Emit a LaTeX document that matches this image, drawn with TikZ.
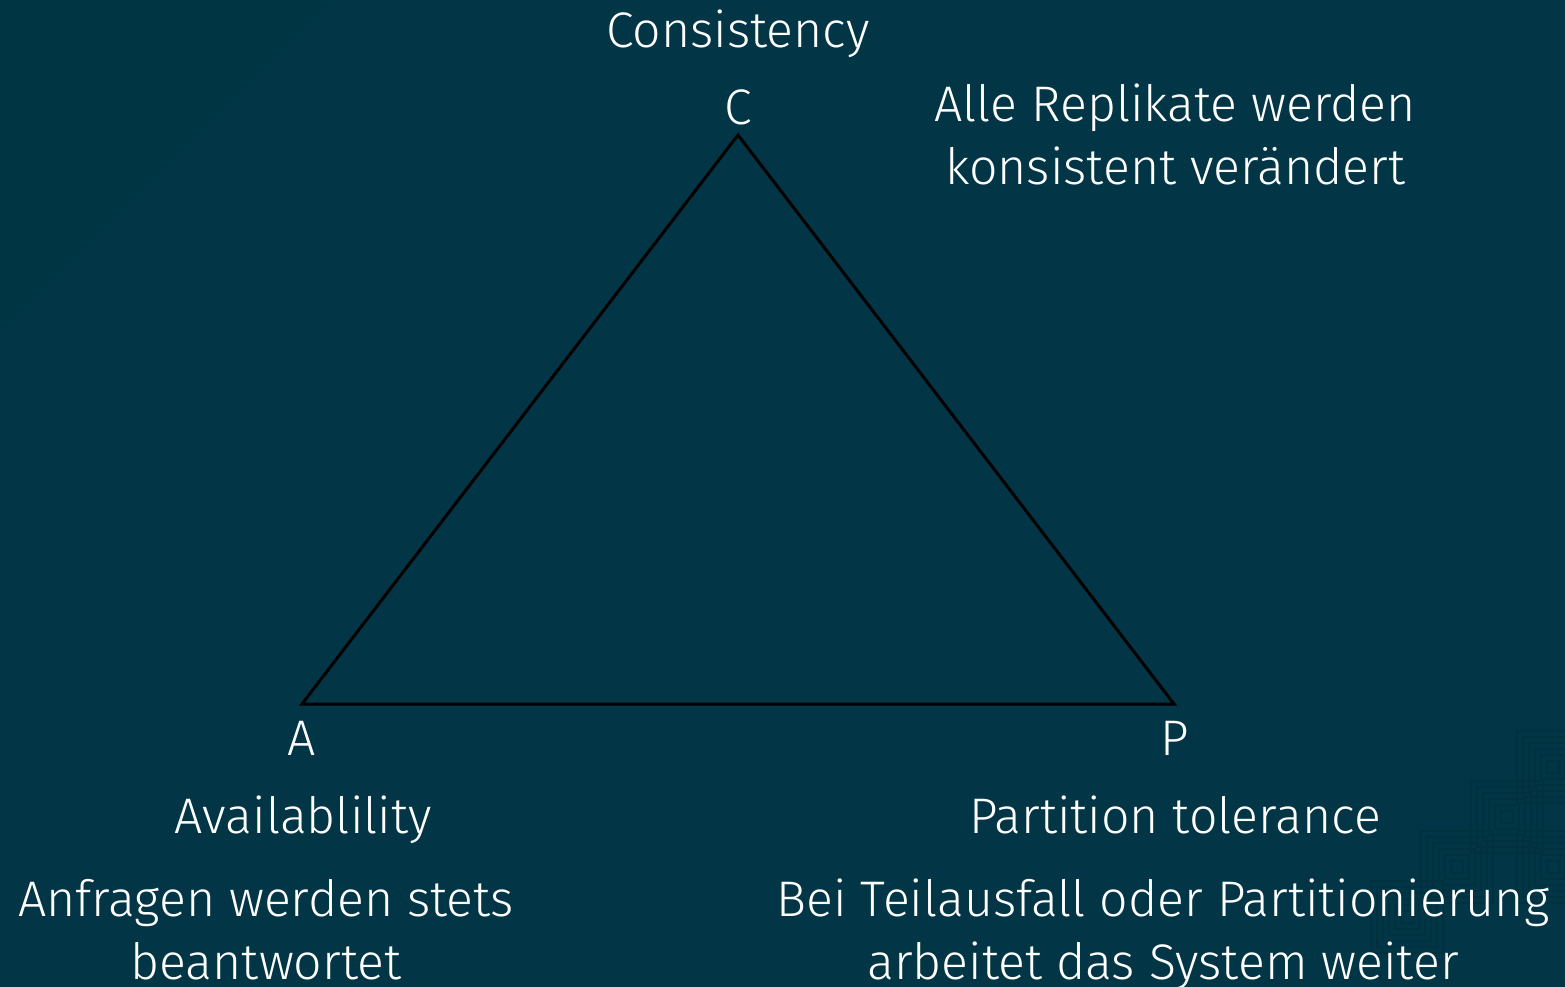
\documentclass[tikz,border=0pt]{standalone}
\usepackage{fontspec}
\setmainfont{Fira Sans}[UprightFont=* Light]
\usetikzlibrary{positioning}

\definecolor{bgteal}{RGB}{2,54,70}
\definecolor{bgdark}{RGB}{0,54,67}
\definecolor{bgline}{RGB}{0,49,63}

\begin{document}
\begin{tikzpicture}[x=1pt, y=-1pt,
  lbl/.style={text=white, font=\fontsize{50}{63}\selectfont, align=center, inner sep=0pt, anchor=base}]
	% hintergrund
	\useasboundingbox (0,0) rectangle (1565,987);
	\clip (0,0) rectangle (1565,987);
	\fill[bgteal] (0,0) rectangle (1565,987);
	\fill[bgdark] (0,0) -- (330,0) -- (0,330) -- cycle;
	\begin{scope}[draw=bgline, line width=1.3pt]
		\foreach \cx/\cy in {1553/767, 1507/817, 1457/867, 1407/917, 1553/867}
			\foreach \r in {6,12,...,36}
				\draw (\cx-\r,\cy-\r) rectangle (\cx+\r,\cy+\r);
	\end{scope}

	% dreieck
	\coordinate (C) at (738,135);
	\coordinate (A) at (302,704);
	\coordinate (P) at (1174,704);
	\draw[line width=3pt, line join=miter] (C) -- (P) -- (A) -- cycle;

	\node[lbl] (cname)	at (738,48)	{Consistency};
	\node[lbl] (clbl)	at (738,125)	{C};
	\node[lbl] (cdesc)	at (1175,185)	{Alle Replikate werden\\konsistent verändert};

	\node[lbl] (albl)	at (302,755)	{A};
	\node[lbl] (aname)	at (303,833)	{Availablility};
	\node[lbl] (adesc)	at (266,979)	{Anfragen werden stets\\beantwortet};

	\node[lbl] (plbl)	at (1175,755)	{P};
	\node[lbl] (pname)	at (1175,833)	{Partition tolerance};
	\node[lbl] (pdesc)	at (1163,979)	{Bei Teilausfall oder Partitionierung\\arbeitet das System weiter};
\end{tikzpicture}
\end{document}
